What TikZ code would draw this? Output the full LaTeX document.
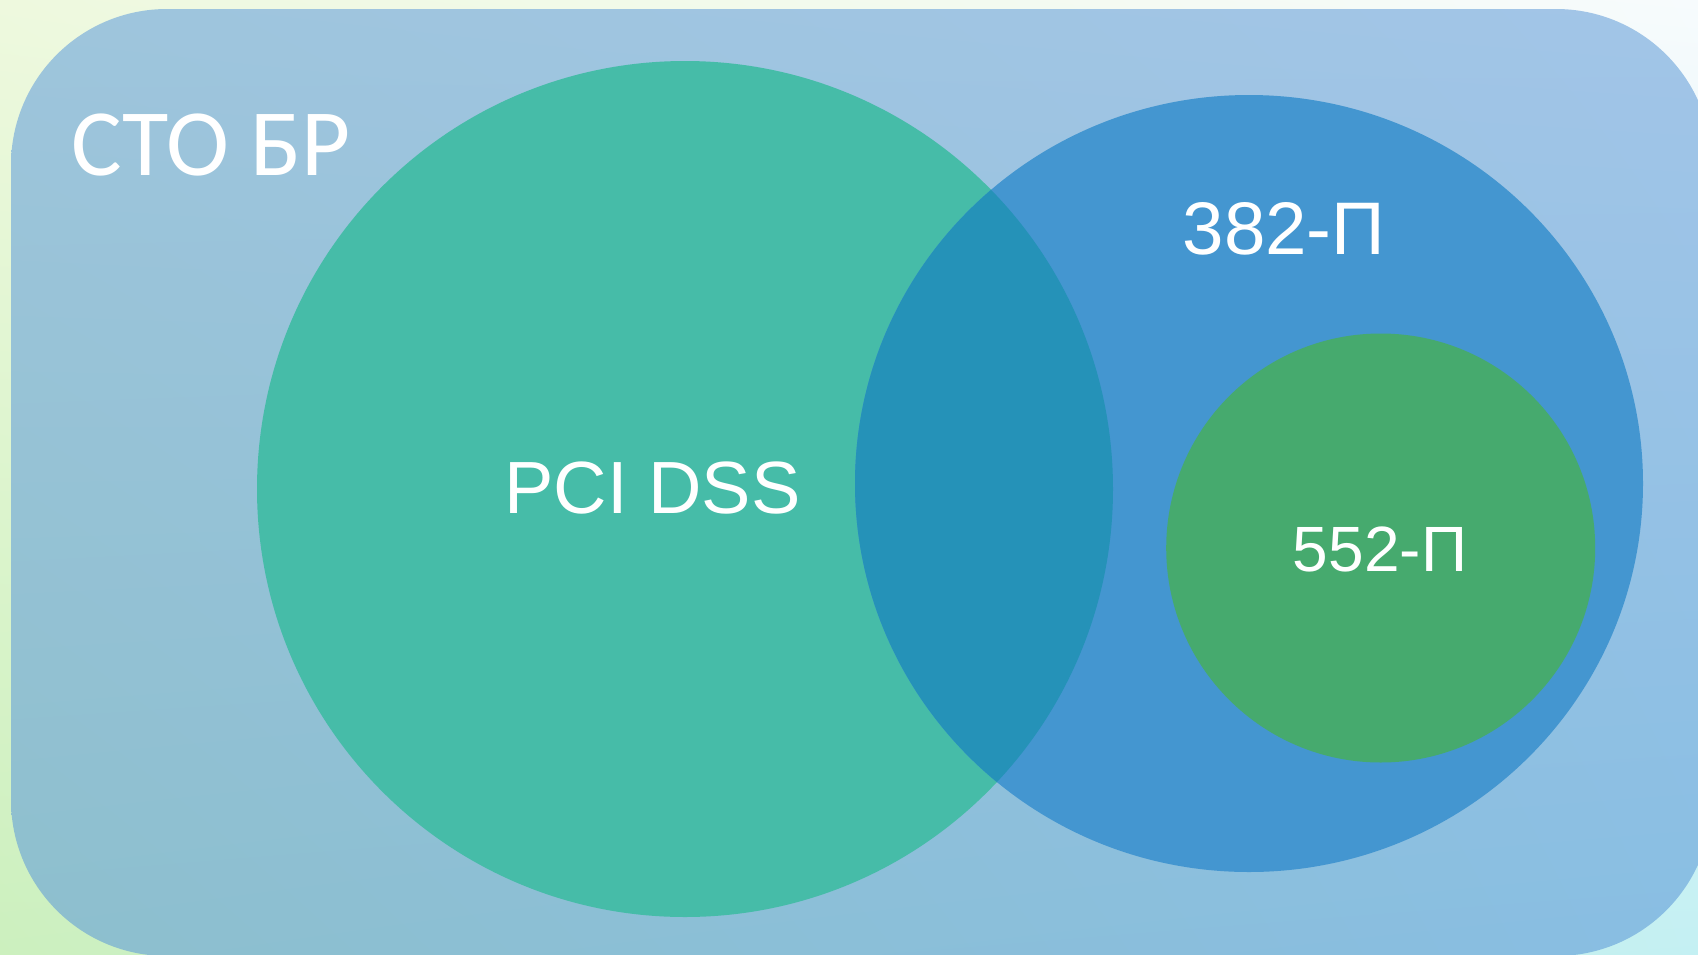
\documentclass[tikz,border=0pt]{standalone}
\usepackage{fontspec}
\usetikzlibrary{shadings}
\newfontfamily\arialf{Liberation Sans}
\newfontfamily\calf{Carlito}
\definecolor{bgTL}{HTML}{EEF9DE}
\definecolor{bgTR}{HTML}{F7FBFD}
\definecolor{bgBL}{HTML}{CCF0BE}
\definecolor{bgBR}{HTML}{C4F0F3}
\definecolor{rTL}{HTML}{9EC5DC}
\definecolor{rTR}{HTML}{A2C5E8}
\definecolor{rBL}{HTML}{8DBFCD}
\definecolor{rBR}{HTML}{88BEE3}
\definecolor{tealc}{HTML}{46BCA8}
\definecolor{bluec}{HTML}{4496D0}
\definecolor{overc}{HTML}{2592B8}
\definecolor{greenc}{HTML}{46AA6E}
\tikzset{
  lbl/.style={text=white, inner sep=0pt, outer sep=0pt},
}
\begin{document}
\begin{tikzpicture}[x=1pt,y=-1pt]
\useasboundingbox (0,0) rectangle (1698,954);
\clip (0,0) rectangle (1698,954);
% background
\shade[upper left=bgTL, upper right=bgTR, lower left=bgBL, lower right=bgBR]
  (0,0) rectangle (1698,954);
% rounded panel
\shade[rounded corners=156pt, upper left=rTL, upper right=rTR, lower left=rBL, lower right=rBR]
  (11,9) rectangle (1712,956);
% circles
\fill[tealc] (685,489) circle[radius=428];
\fill[bluec] (1249,483.5) ellipse[x radius=394, y radius=388.5];
\begin{scope}
  \clip (685,489) circle[radius=428];
  \fill[overc] (1249,483.5) ellipse[x radius=394, y radius=388.5];
\end{scope}
\fill[greenc] (1380.7,548) circle[radius=214.5];
% labels
\node[lbl, font=\calf\fontsize{95}{95}\selectfont] (sto) at (211,145) {СТО БР};
\node[lbl, font=\arialf\fontsize{74}{74}\selectfont] (pci) at (652.5,488) {PCI DSS};
\node[lbl, font=\arialf\fontsize{74.5}{74.5}\selectfont] (p382) at (1284,229) {382-П};
\node[lbl, font=\arialf\fontsize{64}{64}\selectfont] (p552) at (1380,549.5) {552-П};
\end{tikzpicture}
\end{document}
